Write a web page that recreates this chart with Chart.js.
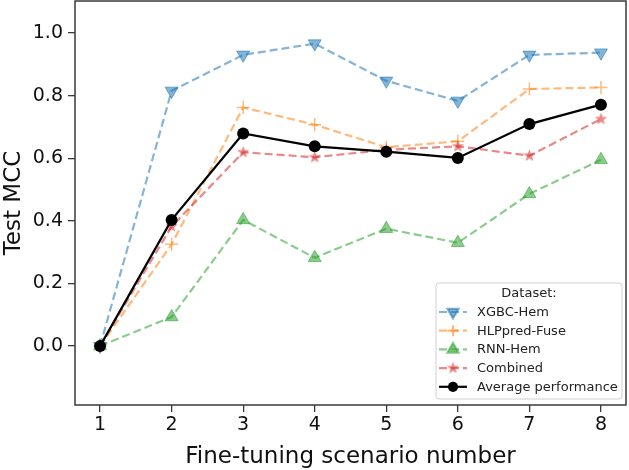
<!DOCTYPE html>
<html>
<head>
<meta charset="utf-8">
<script src="https://cdn.jsdelivr.net/npm/chart.js@4/dist/chart.umd.min.js"></script>
<style>
  html, body { margin: 0; padding: 0; background: #fff; }
  canvas { display: block; }
</style>
</head>
<body>
<canvas id="chart" width="629" height="470"></canvas>
<script>
// data
const scenarios = [1, 2, 3, 4, 5, 6, 7, 8];
const xgbcHem = [0, 0.815, 0.93, 0.966, 0.847, 0.783, 0.93, 0.937];
const hlppredFuse = [0, 0.325, 0.762, 0.707, 0.635, 0.654, 0.821, 0.826];
const rnnHem = [0, 0.093, 0.403, 0.282, 0.375, 0.33, 0.486, 0.595];
const combined = [0, 0.382, 0.619, 0.603, 0.627, 0.638, 0.608, 0.725];
const average = [0, 0.403, 0.679, 0.638, 0.621, 0.601, 0.709, 0.771];
const yTicks = [0, 0.2, 0.4, 0.6, 0.8, 1.0];
const xTicks = [1, 2, 3, 4, 5, 6, 7, 8];

const FONT = "'DejaVu Sans', sans-serif";
const AXIS = "#3a3a3a";

// filled five point star for "Combined"
function starImage(r, color) {
  const c = document.createElement("canvas");
  c.width = c.height = r * 2 + 2;
  const g = c.getContext("2d");
  g.fillStyle = color;
  g.beginPath();
  for (let i = 0; i < 10; i++) {
    const rad = i % 2 === 0 ? r : r * 0.42;
    const a = -Math.PI / 2 + i * Math.PI / 5;
    const px = r + 1 + rad * Math.cos(a), py = r + 1 + rad * Math.sin(a);
    i === 0 ? g.moveTo(px, py) : g.lineTo(px, py);
  }
  g.closePath();
  g.fill();
  return c;
}

const pts = arr => scenarios.map((s, i) => ({ x: s, y: arr[i] }));

const blue = "rgba(31,119,180,0.55)";
const orange = "rgba(255,127,14,0.55)";
const green = "rgba(44,160,44,0.55)";
const red = "rgba(214,39,40,0.55)";

const datasets = [
  { label: "XGBC-Hem", data: pts(xgbcHem), borderColor: blue, backgroundColor: blue,
    borderDash: [8, 4], borderWidth: 2.2, pointStyle: "triangle", rotation: 180,
    pointRadius: 7.5, pointBorderWidth: 1, order: 4 },
  { label: "HLPpred-Fuse", data: pts(hlppredFuse), borderColor: orange, backgroundColor: orange,
    borderDash: [8, 4], borderWidth: 2.2, pointStyle: "cross", pointRadius: 6.5,
    pointBorderWidth: 1.5, order: 3 },
  { label: "RNN-Hem", data: pts(rnnHem), borderColor: green, backgroundColor: green,
    borderDash: [8, 4], borderWidth: 2.2, pointStyle: "triangle", pointRadius: 7.5,
    pointBorderWidth: 1, order: 2 },
  { label: "Combined", data: pts(combined), borderColor: red, backgroundColor: red,
    borderDash: [8, 4], borderWidth: 2.2, pointStyle: starImage(6.5, red), pointRadius: 6.5,
    order: 1 },
  { label: "Average performance", data: pts(average), borderColor: "#000", backgroundColor: "#000",
    borderWidth: 2.2, pointStyle: "circle", pointRadius: 6, pointBorderWidth: 0, order: 0 }
];

// frame around the plot area
const framePlugin = {
  id: "frame",
  afterDraw(chart) {
    const { ctx, chartArea: a } = chart;
    ctx.save();
    ctx.strokeStyle = AXIS;
    ctx.lineWidth = 1.5;
    ctx.strokeRect(a.left, a.top, a.right - a.left, a.bottom - a.top);
    ctx.restore();
  }
};

// legend inside the lower right corner
const legendPlugin = {
  id: "innerLegend",
  afterDraw(chart) {
    const { ctx, chartArea: a } = chart;
    const w = 186, h = 116;
    const x0 = a.right - 4 - w, y0 = a.bottom - 6 - h;
    ctx.save();
    ctx.beginPath();
    ctx.roundRect(x0, y0, w, h, 3);
    ctx.fillStyle = "rgba(255,255,255,0.85)";
    ctx.fill();
    ctx.strokeStyle = "#d0d0d0";
    ctx.lineWidth = 1;
    ctx.stroke();

    ctx.fillStyle = "#222";
    ctx.font = "13px " + FONT;
    ctx.textBaseline = "middle";
    ctx.textAlign = "center";
    ctx.fillText("Dataset:", x0 + w / 2, y0 + 11);

    ctx.textAlign = "left";
    chart.data.datasets.forEach((ds, i) => {
      const y = y0 + 29 + i * 18.7;
      ctx.save();
      ctx.strokeStyle = ds.borderColor;
      ctx.lineWidth = ds.borderWidth;
      ctx.setLineDash(ds.borderDash || []);
      ctx.beginPath();
      ctx.moveTo(x0 + 3, y);
      ctx.lineTo(x0 + 31, y);
      ctx.stroke();
      ctx.setLineDash([]);
      ctx.fillStyle = ds.backgroundColor;
      Chart.helpers.drawPoint(ctx, {
        pointStyle: ds.pointStyle, rotation: ds.rotation || 0,
        radius: ds.pointRadius * 0.85, borderWidth: ds.pointBorderWidth || 0
      }, x0 + 17, y);
      ctx.restore();
      ctx.fillStyle = "#222";
      ctx.fillText(ds.label, x0 + 41, y + 0.5);
    });
    ctx.restore();
  }
};

new Chart(document.getElementById("chart"), {
  type: "line",
  data: { datasets },
  options: {
    responsive: false,
    animation: false,
    layout: { autoPadding: false, padding: { top: 1, right: 3, left: 0, bottom: 0 } },
    plugins: { legend: { display: false }, tooltip: { enabled: false } },
    scales: {
      x: {
        type: "linear",
        min: 0.65, max: 8.35,
        afterBuildTicks: s => { s.ticks = xTicks.map(v => ({ value: v })); },
        afterFit: s => { s.height = 65; s.paddingLeft = 0; s.paddingRight = 0; },
        ticks: { color: "#111", font: { family: FONT, size: 19 }, padding: 2,
                 callback: v => String(v) },
        grid: { display: true, drawOnChartArea: false, drawTicks: true, tickLength: 7,
                color: AXIS, lineWidth: 1.3 },
        border: { display: false },
        title: { display: true, text: "Fine-tuning scenario number", color: "#111",
                 font: { family: FONT, size: 23 }, padding: { top: 0, bottom: -1 } }
      },
      y: {
        min: -0.188, max: 1.102,
        afterBuildTicks: s => { s.ticks = yTicks.map(v => ({ value: v })); },
        afterFit: s => { s.width = 75; s.paddingTop = 0; s.paddingBottom = 0; },
        ticks: { color: "#111", font: { family: FONT, size: 19 }, padding: 5,
                 callback: v => v.toFixed(1) },
        grid: { display: true, drawOnChartArea: false, drawTicks: true, tickLength: 7,
                color: AXIS, lineWidth: 1.3 },
        border: { display: false },
        title: { display: true, text: "Test MCC", color: "#111",
                 font: { family: FONT, size: 23 }, padding: { top: 0, bottom: 0 } }
      }
    }
  },
  plugins: [framePlugin, legendPlugin]
});
</script>
</body>
</html>
